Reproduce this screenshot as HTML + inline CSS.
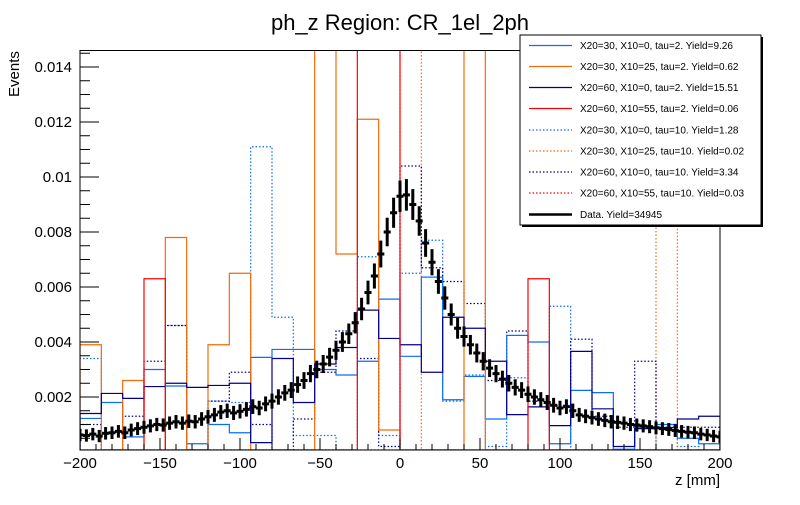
<!DOCTYPE html>
<html><head><meta charset="utf-8"><style>
body{margin:0;background:#fff;width:800px;height:500px;overflow:hidden}
svg{font-family:"Liberation Sans",Arial,sans-serif}
</style></head><body>
<svg id="c" width="800" height="500" viewBox="0 0 800 500"></svg>
<script>
const binCount = 30;
const xTicks = [-200,-150,-100,-50,0,50,100,150,200];
const yTicks = [0.002,0.004,0.006,0.008,0.01,0.012,0.014];
const yTickLabels = ["0.002","0.004","0.006","0.008","0.01","0.012","0.014"];
const azureSolid = [0.00122,0.0018,0.00055,0.0030,0.0024,0.0003,0.001,0.0007,0.00344,0.00373,0.00373,0.003,0.0028,0.0033,0.00556,0.00348,0.00636,0.0019,0.00275,0.0012,0.00424,0.004,0.0003,0.00224,0.00216,0.0001,0.0009,0.001,0.0005,0.0003];
const orangeSolid = [0.0039,0,0.0026,0,0.0078,0,0.0039,0.0065,0,0,0,0.0148,0.0072,0.0121,0.0008,0,0,0,0.016,0,0,0,0,0,0,0,0,0,0,0];
const navySolid = [0.0014,0.00213,0.00195,0.00238,0.0025,0.00235,0.00242,0.0025,0.00034,0.0034,0.0018,0.0032,0.0038,0.00516,0.00413,0.0039,0.0029,0.0049,0.0045,0.0033,0.00136,0.00164,0.00096,0.00366,0.00157,0.0002,0.00085,0.00089,0.0012,0.0013];
const redSolid = [0,0,0,0.0063,0,0,0,0,0,0,0,0,0,0.016,0.016,0,0,0,0,0,0,0.0063,0,0,0,0,0,0,0,0];
const azureDotted = [0.0034,0,0,0,0.0046,0,0.00185,0.0018,0.0111,0.0049,0.0006,0.0006,0,0.0071,0.0006,0.0065,0.0077,0.00185,0.0028,0.0002,0.0027,0.00185,0.0053,0,0,0,0,0.001,0.0002,0];
const orangeDotted = [0,0,0,0,0,0,0,0,0,0,0,0,0,0,0,0.016,0,0,0,0,0,0,0,0,0,0,0,0.016,0,0];
const navyDotted = [0.001,0,0.0013,0.0033,0.0046,0,0.00185,0.0029,0.001,0,0.0012,0.0029,0.0044,0.0034,0.0002,0.0104,0.0067,0.0062,0.0054,0.0026,0.0044,0.00185,0.0017,0.0041,0.0013,0.0009,0.0033,0.0009,0.0009,0.0009];
const redDotted = [0,0,0,0,0,0,0,0,0,0,0,0,0,0,0,0,0,0,0,0,0,0,0,0,0,0,0,0,0,0];
const dataX = [];
for (let i=0;i<=100;i++) dataX.push(-200+4*i);
const dataY = [0.00062,0.00060,0.00065,0.00058,0.00068,0.00070,0.00075,0.00070,0.00080,0.00085,0.00090,0.00095,0.00100,0.00098,0.00105,0.00110,0.00105,0.00112,0.00110,0.00120,0.00128,0.00135,0.00145,0.00150,0.00142,0.00148,0.00155,0.00165,0.00160,0.00175,0.00185,0.00200,0.00215,0.00225,0.00245,0.00260,0.00285,0.00300,0.00320,0.00345,0.00370,0.00400,0.00430,0.00470,0.00520,0.00580,0.00640,0.00720,0.00800,0.00870,0.00930,0.00935,0.00900,0.00840,0.00760,0.00690,0.00620,0.00560,0.00500,0.00450,0.00420,0.00390,0.00360,0.00330,0.00305,0.00285,0.00265,0.00250,0.00235,0.00225,0.00210,0.00200,0.00190,0.00180,0.00170,0.00160,0.00165,0.00150,0.00135,0.00130,0.00125,0.00120,0.00115,0.00110,0.00108,0.00105,0.00100,0.00098,0.00095,0.00092,0.00088,0.00085,0.00082,0.00078,0.00075,0.00072,0.00070,0.00065,0.00062,0.00058,0.00055];

const L=80,R=720,T=50.5,B=450;
const X = v => L + (v+200)/400*(R-L);
const Y = v => 452 - v*27500;
const svg = document.getElementById('c');
const NS='http://www.w3.org/2000/svg';
function mk(tag, attrs, parent){const e=document.createElementNS(NS,tag);for(const k in attrs)e.setAttribute(k,attrs[k]);(parent||svg).appendChild(e);return e;}

const clip = mk('clipPath',{id:'pc'}); mk('rect',{x:L,y:T,width:R-L,height:B-T},clip);
const plot = mk('g',{'clip-path':'url(#pc)'});



function hist(vals,color,dash,name){
  const bw=400/binCount; let d='M'+X(-200)+','+B;
  vals.forEach((v,i)=>{const y=Math.min(B,Y(v));d+=' L'+X(-200+i*bw)+','+y+' L'+X(-200+(i+1)*bw)+','+y;});
  d+=' L'+X(200)+','+B;
  const p=mk('path',{d:d,fill:'none',stroke:color,'stroke-width':1.2,'stroke-dasharray':dash?'1.5,2':'none'},plot);
  
  
}
hist(azureDotted,'#0b6ef5',true,'hist-x20-30-x10-0-tau10');
hist(orangeDotted,'#f26b0a',true,'hist-x20-30-x10-25-tau10');
hist(navyDotted,'#00008c',true,'hist-x20-60-x10-0-tau10');
hist(redDotted,'#ff0000',true,'hist-x20-60-x10-55-tau10');
hist(azureSolid,'#0b6ef5',false,'hist-x20-30-x10-0-tau2');
hist(orangeSolid,'#f26b0a',false,'hist-x20-30-x10-25-tau2');
hist(navySolid,'#00008c',false,'hist-x20-60-x10-0-tau2');
hist(redSolid,'#ff0000',false,'hist-x20-60-x10-55-tau2');

const dg=mk('g',{stroke:'#000','stroke-width':3},plot);


dataX.forEach((x,i)=>{
  const v=dataY[i], e=0.0002+v*0.04;
  mk('line',{x1:X(x-2.2),x2:X(x+2.2),y1:Y(v),y2:Y(v)},dg);
  mk('line',{x1:X(x),x2:X(x),y1:Y(v-e),y2:Y(v+e)},dg);
});

const fr=mk('rect',{x:L,y:T,width:R-L,height:B-T,fill:'none',stroke:'#000','stroke-width':1});


for(let v=0.0005;v<0.0147;v+=0.0005){const maj=Math.abs(v/0.002-Math.round(v/0.002))<1e-6;mk('line',{x1:L,x2:L+(maj?19:10),y1:Y(v),y2:Y(v),stroke:'#000'});}
yTicks.forEach((v,i)=>{const t=mk('text',{x:72,y:Y(v)+5,'text-anchor':'end','font-size':15});t.textContent=yTickLabels[i];

});
for(let v=-200;v<=200;v+=10){const maj=v%50===0;mk('line',{x1:X(v),x2:X(v),y1:B,y2:B-(maj?12:6),stroke:'#000'});}
xTicks.forEach(v=>{const t=mk('text',{x:X(v),y:468,'text-anchor':'middle','font-size':15});t.textContent=String(v).replace('-','\u2212');

});
</script>
<svg width="800" height="500" style="position:absolute;left:0;top:0">
<text x="400" y="30" text-anchor="middle" font-size="22" font-family="Liberation Sans,sans-serif">ph_z Region: CR_1el_2ph</text>
<text x="720" y="485" text-anchor="end" font-size="15" font-family="Liberation Sans,sans-serif">z [mm]</text>
<text transform="translate(19,97) rotate(-90)" text-anchor="start" font-size="15" font-family="Liberation Sans,sans-serif">Events</text>
<g font-family="Liberation Sans,sans-serif" font-size="10">
<rect x="522" y="37" width="241" height="190" fill="#000"/>
<rect x="520" y="35" width="241" height="190" fill="#fff" stroke="#000"/>
<g><line x1="529" x2="572" y1="45.5" y2="45.5" stroke="#0b6ef5" stroke-width="1.2"/><text x="580" y="49">X20=30, X10=0, tau=2. Yield=9.26</text></g>
<g><line x1="529" x2="572" y1="66.5" y2="66.5" stroke="#f26b0a" stroke-width="1.2"/><text x="580" y="70">X20=30, X10=25, tau=2. Yield=0.62</text></g>
<g><line x1="529" x2="572" y1="87.5" y2="87.5" stroke="#00008c" stroke-width="1.2"/><text x="580" y="91">X20=60, X10=0, tau=2. Yield=15.51</text></g>
<g><line x1="529" x2="572" y1="108.5" y2="108.5" stroke="#ff0000" stroke-width="1.2"/><text x="580" y="112">X20=60, X10=55, tau=2. Yield=0.06</text></g>
<g><line x1="529" x2="572" y1="130" y2="130" stroke="#0b6ef5" stroke-width="1.2" stroke-dasharray="1.5,2"/><text x="580" y="133.5">X20=30, X10=0, tau=10. Yield=1.28</text></g>
<g><line x1="529" x2="572" y1="151" y2="151" stroke="#f26b0a" stroke-width="1.2" stroke-dasharray="1.5,2"/><text x="580" y="154.5">X20=30, X10=25, tau=10. Yield=0.02</text></g>
<g><line x1="529" x2="572" y1="172" y2="172" stroke="#00008c" stroke-width="1.2" stroke-dasharray="1.5,2"/><text x="580" y="175.5">X20=60, X10=0, tau=10. Yield=3.34</text></g>
<g><line x1="529" x2="572" y1="193" y2="193" stroke="#ff0000" stroke-width="1.2" stroke-dasharray="1.5,2"/><text x="580" y="196.5">X20=60, X10=55, tau=10. Yield=0.03</text></g>
<g><line x1="529" x2="572" y1="214.5" y2="214.5" stroke="#000" stroke-width="2.5"/><text x="580" y="218">Data. Yield=34945</text></g>
</g>
</svg>
</body></html>
